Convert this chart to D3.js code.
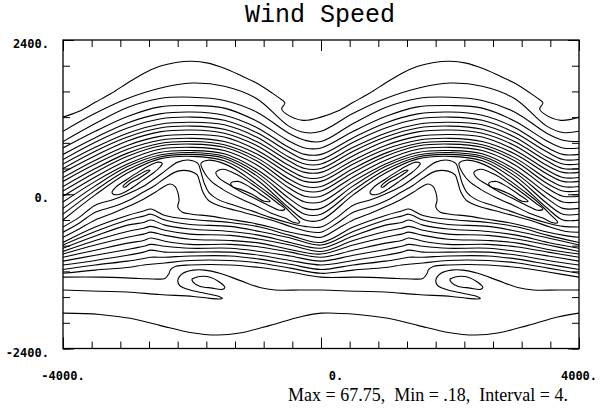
<!DOCTYPE html>
<html>
<head>
<meta charset="utf-8">
<script src="https://cdn.jsdelivr.net/npm/d3@7"></script>
<style>
  body { margin: 0; background: #fff; }
  svg { display: block; }
</style>
</head>
<body>
<div id="chart"></div>
<script>
// ---- axis ticks / labels ----
const xMajorTicks = [-4000, 0, 4000];
const yMajorTicks = [-2400, 0, 2400];
const xTickLabels = ["-4000.", "0.", "4000."];
const yTickLabels = ["-2400.", "0.", "2400."];
const xMinorPerMajor = 9;
const yMinorPerMajor = 6;
const chartTitle = "Wind Speed";
const infoText = "Max = 67.75,  Min = .18,  Interval = 4.";

// the field repeats every 4000 in x: one period is listed, drawn twice
const periodShifts = [0, 4000];

// ---- contour lines, one period (x -4000 .. 0) ----
// outermost northern line (with the little notch on the falling side)
const topLine = [[-4000,1200],[-3750,1290],[-3500,1430],[-3250,1570],[-3000,1730],[-2750,1880],
  [-2500,1990],[-2250,2050],[-2000,2070],[-1750,2040],[-1500,1960],[-1250,1850],[-1000,1730],
  [-750,1570],[-650,1500],[-560,1420],[-610,1330],[-540,1250],[-280,1150],[0,1200]];

// northern flank, y at shared x columns
const northCols = [-4000, -3500, -3000, -2500, -2000, -1500, -1000, -500, -250, 0];
const northY = [
  [980, 1260, 1490, 1650, 1730, 1680, 1490, 1060, 960, 980],
  [820, 1100, 1350, 1490, 1510, 1460, 1280, 950, 840, 820],
  [720, 980, 1210, 1360, 1380, 1340, 1140, 830, 720, 720],
  [620, 880, 1110, 1250, 1280, 1230, 1040, 730, 620, 620],
  [540, 810, 1030, 1170, 1200, 1150, 960, 660, 540, 540],
  [470, 730, 950, 1090, 1120, 1080, 890, 580, 470, 470],
  [400, 670, 890, 1030, 1060, 1010, 820, 520, 400, 400],
  [340, 600, 830, 970, 1000, 950, 760, 450, 340, 340],
  [260, 530, 760, 900, 930, 890, 690, 380, 260, 260],
  [200, 470, 700, 840, 870, 820, 630, 320, 200, 200],
  [120, 400, 640, 790, 820, 770, 570, 240, 120, 120],
  [50, 340, 590, 750, 780, 730, 520, 170, 50, 50],
  [-30, 270, 530, 700, 730, 680, 460, 100, -30, -30],
  [-120, 200, 470, 650, 680, 630, 390, 20, -120, -120],
  [-220, 130, 430, 610, 650, 590, 340, -60, -220, -220],
  [-310, 60, 380, 580, 620, 560, 290, -140, -310, -310],
  [-400, -10, 330, 550, 590, 520, 230, -210, -400, -400]
];

// lines just south of the jet core, bending round the crest
const coreSouth1 = [[-4000,-510],[-3750,-360],[-3500,-170],[-3240,-90],[-3010,0],[-2760,120],
  [-2570,250],[-2420,360],[-2220,500],[-2030,530],[-1910,480],[-1860,340],[-1810,170],[-1740,30],
  [-1600,-80],[-1380,-160],[-1100,-250],[-790,-360],[-480,-450],[-250,-500],[0,-510]];
const coreSouth2 = [[-4000,-590],[-3750,-450],[-3500,-280],[-3240,-200],[-3010,-110],[-2760,30],
  [-2570,140],[-2420,250],[-2220,360],[-2030,360],[-1920,300],[-1880,190],[-1830,30],[-1750,-90],
  [-1600,-170],[-1330,-250],[-1020,-330],[-710,-420],[-450,-510],[-200,-580],[0,-590]];
const mushroomLine = [[-4000,-670],[-3750,-540],[-3500,-400],[-3240,-300],[-3010,-200],[-2760,-80],
  [-2570,30],[-2450,110],[-2340,160],[-2260,120],[-2220,30],[-2200,-90],[-2220,-200],[-2150,-280],
  [-2000,-310],[-1720,-340],[-1410,-390],[-1100,-440],[-790,-510],[-480,-590],[-230,-640],[0,-670]];

// southern flank, y at shared x columns
const southCols = [-4000, -3500, -3000, -2750, -2640, -2420, -2030, -1410, -950, -480, 0];
const southY = [
  [-750, -510, -330, -260, -230, -330, -390, -440, -510, -640, -750],
  [-790, -580, -400, -340, -310, -400, -470, -500, -580, -680, -790],
  [-840, -650, -480, -440, -400, -480, -540, -580, -640, -750, -840],
  [-890, -720, -580, -530, -500, -560, -620, -640, -700, -790, -890],
  [-930, -790, -670, -620, -590, -640, -700, -720, -760, -860, -930],
  [-980, -870, -760, -720, -680, -730, -780, -780, -820, -900, -980],
  [-1040, -950, -860, -810, -780, -810, -840, -840, -890, -960, -1040],
  [-1100, -1030, -950, -900, -870, -900, -900, -900, -950, -1030, -1100],
  [-1170, -1100, -1040, -1000, -980, -980, -960, -960, -1010, -1090, -1170],
  [-1230, -1180, -1140, -1100, -1090, -1070, -1030, -1030, -1070, -1150, -1230]
];

const stepLine = [[-4000,-1290],[-3430,-1290],[-2810,-1310],[-2530,-1320],[-2420,-1310],[-2360,-1240],
  [-2330,-1170],[-2250,-1120],[-2030,-1100],[-1410,-1100],[-950,-1140],[-480,-1210],[0,-1290]];
const eddyLine = [[-4000,-1490],[-3430,-1510],[-3010,-1520],[-2500,-1560],[-1980,-1590],[-1720,-1620],
  [-1570,-1630],[-1530,-1620],[-1580,-1590],[-1800,-1540],[-2030,-1490],[-2190,-1420],[-2220,-1340],
  [-2140,-1230],[-1980,-1180],[-1800,-1180],[-1570,-1230],[-1260,-1340],[-950,-1450],[-710,-1490],
  [-330,-1490],[0,-1490]];
const bottomLine = [[-4000,-1850],[-3430,-1870],[-2960,-1930],[-2500,-2040],[-2030,-2150],
  [-1610,-2190],[-1260,-2160],[-790,-2040],[-330,-1910],[0,-1850]];

// closed contours
const riseOuter = [[-3240,30],[-3180,110],[-3010,230],[-2810,360],[-2650,450],[-2530,500],[-2460,480],
  [-2500,420],[-2600,330],[-2760,220],[-2960,80],[-3120,0],[-3220,0]];
const riseInner = [[-3070,120],[-2950,230],[-2810,310],[-2700,370],[-2650,370],[-2700,330],[-2820,250],
  [-2960,170],[-3040,110]];
const fallOuter = [[-1860,480],[-1750,530],[-1570,500],[-1330,390],[-1100,230],[-870,60],[-640,-120],
  [-450,-310],[-330,-440],[-420,-440],[-560,-370],[-760,-300],[-1020,-170],[-1290,-50],[-1530,80],
  [-1700,200],[-1810,340]];
const fallMiddle = [[-1630,340],[-1520,390],[-1290,300],[-1070,160],[-850,0],[-670,-140],[-560,-230],
  [-640,-250],[-820,-170],[-1040,-60],[-1260,50],[-1440,160],[-1580,250]];
const fallInner = [[-1400,170],[-1290,200],[-1100,110],[-910,-20],[-790,-110],[-880,-110],[-1070,0],
  [-1260,80],[-1360,110]];
const eddyLoop = [[-1980,-1310],[-1880,-1280],[-1720,-1290],[-1570,-1370],[-1490,-1450],[-1530,-1480],
  [-1690,-1460],[-1880,-1430],[-1980,-1370],[-2000,-1320]];

// ---- drawing ----
const margin = { top: 40, left: 63 };
const plotW = 516, plotH = 308.5;

const x = d3.scaleLinear().domain([-4000, 4000]).range([0, plotW]);
const y = d3.scaleLinear().domain([-2400, 2400]).range([plotH, 0]);

const svg = d3.select("#chart")
  .append("svg")
  .attr("width", 600)
  .attr("height", 412);

svg.append("defs")
  .append("clipPath")
  .attr("id", "plotClip")
  .append("rect")
  .attr("width", plotW)
  .attr("height", plotH);

const chart = svg.append("g")
  .attr("transform", "translate(" + margin.left + "," + margin.top + ")");

const openLine = d3.line()
  .x((d) => x(d[0]))
  .y((d) => y(d[1]))
  .curve(d3.curveCatmullRom.alpha(0.5));

const closedLine = d3.line()
  .x((d) => x(d[0]))
  .y((d) => y(d[1]))
  .curve(d3.curveCatmullRomClosed.alpha(0.5));

// repeat one period across the whole axis
function acrossPeriods(pts) {
  return periodShifts.flatMap((s, k) =>
    pts.slice(k === 0 ? 0 : 1).map((d) => [d[0] + s, d[1]]));
}

const openLines = [topLine]
  .concat(northY.map((ys) => northCols.map((c, i) => [c, ys[i]])))
  .concat([coreSouth1, coreSouth2, mushroomLine])
  .concat(southY.map((ys) => southCols.map((c, i) => [c, ys[i]])))
  .concat([stepLine, eddyLine, bottomLine]);

const closedLoops = [riseOuter, riseInner, fallOuter, fallMiddle, fallInner, eddyLoop];

const contours = chart.append("g").attr("clip-path", "url(#plotClip)");

contours.selectAll("path.open")
  .data(openLines)
  .join("path")
  .attr("class", "open")
  .attr("d", (d) => openLine(acrossPeriods(d)))
  .attr("fill", "none")
  .attr("stroke", "#000")
  .attr("stroke-width", 1.1);

const loopCopies = periodShifts.flatMap((s) =>
  closedLoops.map((loop) => loop.map((d) => [d[0] + s, d[1]])));

contours.selectAll("path.loop")
  .data(loopCopies)
  .join("path")
  .attr("class", "loop")
  .attr("d", (d) => closedLine(d))
  .attr("fill", "none")
  .attr("stroke", "#000")
  .attr("stroke-width", 1.1);

// frame
chart.append("rect")
  .attr("width", plotW)
  .attr("height", plotH)
  .attr("fill", "none")
  .attr("stroke", "#000")
  .attr("stroke-width", 1.3);

// inward tick marks on all four sides
const xMinor = d3.range(0, 2 * xMinorPerMajor + 1).map((i) => -4000 + i * 4000 / xMinorPerMajor);
const yMinor = d3.range(0, 2 * yMinorPerMajor + 1).map((i) => -2400 + i * 2400 / yMinorPerMajor);

function ticks(axis, values, size, transform) {
  const t = chart.append("g")
    .attr("transform", transform)
    .call(axis.tickValues(values).tickSize(-size).tickFormat(""));
  t.select(".domain").remove();
  t.selectAll("line").attr("stroke", "#000").attr("stroke-width", 1);
}

ticks(d3.axisBottom(x), xMinor, 7, "translate(0," + plotH + ")");
ticks(d3.axisTop(x), xMinor, 7, "translate(0,0)");
ticks(d3.axisBottom(x), xMajorTicks, 11, "translate(0," + plotH + ")");
ticks(d3.axisTop(x), xMajorTicks, 11, "translate(0,0)");
ticks(d3.axisLeft(y), yMinor, 7, "translate(0,0)");
ticks(d3.axisRight(y), yMinor, 7, "translate(" + plotW + ",0)");
ticks(d3.axisLeft(y), yMajorTicks, 11, "translate(0,0)");
ticks(d3.axisRight(y), yMajorTicks, 11, "translate(" + plotW + ",0)");

// tick labels
chart.selectAll("text.ylab")
  .data(yMajorTicks)
  .join("text")
  .attr("class", "ylab")
  .attr("x", -14)
  .attr("y", (d) => y(d) + 4)
  .attr("text-anchor", "end")
  .attr("dominant-baseline", "central")
  .style("font", "bold 12px 'DejaVu Sans Mono', monospace")
  .text((d, i) => yTickLabels[i]);

chart.selectAll("text.xlab")
  .data(xMajorTicks)
  .join("text")
  .attr("class", "xlab")
  .attr("x", (d) => x(d) + (d === 0 ? 15 : 0))
  .attr("y", plotH + 27)
  .attr("text-anchor", "middle")
  .attr("dominant-baseline", "central")
  .style("font", "bold 12px 'DejaVu Sans Mono', monospace")
  .text((d, i) => xTickLabels[i]);

// title
svg.append("text")
  .attr("x", 320)
  .attr("y", 22)
  .attr("text-anchor", "middle")
  .style("font", "25px 'Liberation Mono', monospace")
  .text(chartTitle);

// info line
svg.append("text")
  .attr("x", 568)
  .attr("y", 401)
  .attr("text-anchor", "end")
  .style("font", "18px 'Liberation Serif', serif")
  .style("white-space", "pre")
  .text(infoText);
</script>
</body>
</html>
